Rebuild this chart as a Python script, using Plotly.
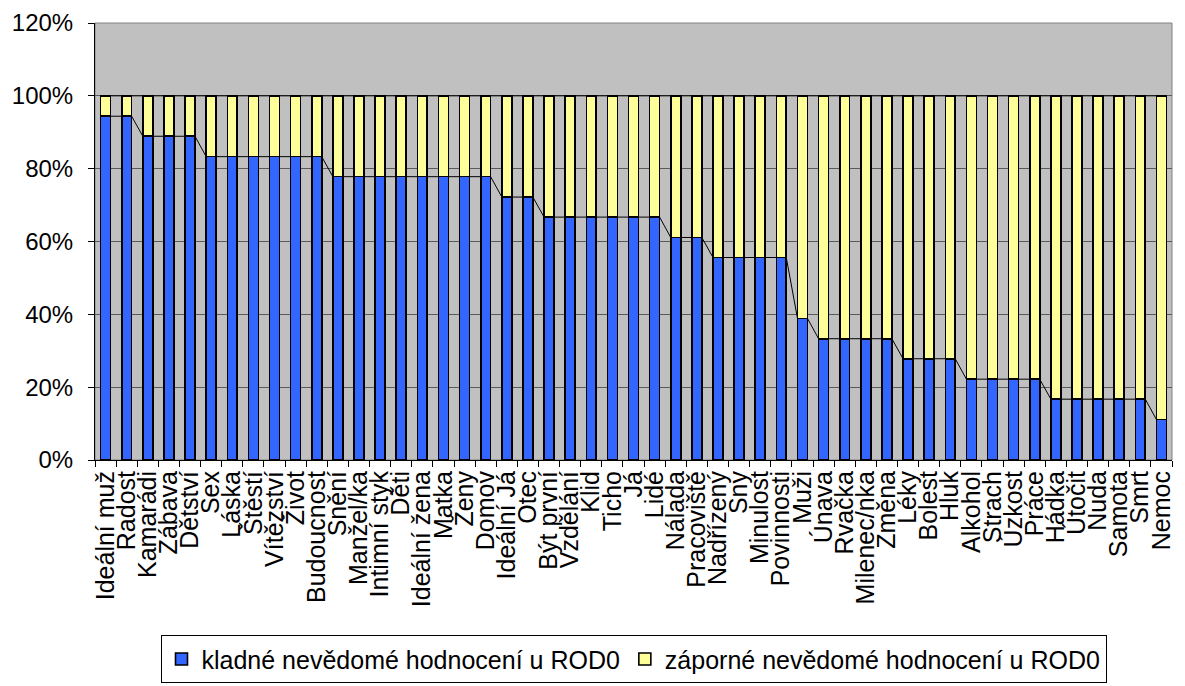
import plotly.graph_objects as go

categories = [
    "Ideální muž", "Radost", "Kamarádi", "Zábava", "Dětství", "Sex", "Láska",
    "Štěstí", "Vítězství", "Život", "Budoucnost", "Snění", "Manžel/ka",
    "Intimní styk", "Děti", "Ideální žena", "Matka", "Ženy", "Domov",
    "Ideální Já", "Otec", "Být první", "Vzdělání", "Klid", "Ticho", "Já",
    "Lidé", "Nálada", "Pracoviště", "Nadřízený", "Sny", "Minulost",
    "Povinnosti", "Muži", "Únava", "Rvačka", "Milenec/nka", "Změna", "Léky",
    "Bolest", "Hluk", "Alkohol", "Strach", "Úzkost", "Práce", "Hádka",
    "Útočit", "Nuda", "Samota", "Smrt", "Nemoc",
]

kladne = [
    94.4, 94.4, 88.9, 88.9, 88.9, 83.3, 83.3, 83.3, 83.3, 83.3, 83.3,
    77.8, 77.8, 77.8, 77.8, 77.8, 77.8, 77.8, 77.8, 72.2, 72.2,
    66.7, 66.7, 66.7, 66.7, 66.7, 66.7, 61.1, 61.1,
    55.6, 55.6, 55.6, 55.6, 38.9, 33.3, 33.3, 33.3, 33.3,
    27.8, 27.8, 27.8, 22.2, 22.2, 22.2, 22.2,
    16.7, 16.7, 16.7, 16.7, 16.7, 11.1,
]

zaporne = [
    5.6, 5.6, 11.1, 11.1, 11.1, 16.7, 16.7, 16.7, 16.7, 16.7, 16.7,
    22.2, 22.2, 22.2, 22.2, 22.2, 22.2, 22.2, 22.2, 27.8, 27.8,
    33.3, 33.3, 33.3, 33.3, 33.3, 33.3, 38.9, 38.9,
    44.4, 44.4, 44.4, 44.4, 61.1, 66.7, 66.7, 66.7, 66.7,
    72.2, 72.2, 72.2, 77.8, 77.8, 77.8, 77.8,
    83.3, 83.3, 83.3, 83.3, 83.3, 88.9,
]

y_ticks = [0, 20, 40, 60, 80, 100, 120]
y_tick_labels = ["0%", "20%", "40%", "60%", "80%", "100%", "120%"]

BLUE = "#3366FF"
YELLOW = "#FFFF99"
PLOT_BG = "#C0C0C0"
FONT = "Liberation Sans, Arial, sans-serif"
BAR_W = 0.47

x = list(range(len(categories)))

fig = go.Figure()
fig.add_bar(
    x=x, y=kladne, width=BAR_W, name="kladné nevědomé hodnocení u ROD0",
    marker=dict(color=BLUE, line=dict(color="black", width=1.6)),
)
fig.add_bar(
    x=x, y=zaporne, width=BAR_W, name="záporné nevědomé hodnocení u ROD0",
    marker=dict(color=YELLOW, line=dict(color="black", width=1.6)),
)

# series lines joining the tops of neighbouring stacked segments
def series_lines(tops):
    xs, ys = [], []
    for i in range(len(tops) - 1):
        xs += [i + BAR_W / 2, i + 1 - BAR_W / 2, None]
        ys += [tops[i], tops[i + 1], None]
    return xs, ys

top_total = [a + b for a, b in zip(kladne, zaporne)]
for tops in (kladne, top_total):
    lx, ly = series_lines(tops)
    fig.add_scatter(
        x=lx, y=ly, mode="lines", line=dict(color="black", width=1),
        showlegend=False, hoverinfo="skip",
    )

fig.update_layout(
    width=1185, height=686,
    barmode="stack",
    paper_bgcolor="white",
    plot_bgcolor=PLOT_BG,
    margin=dict(l=95, r=13, t=23, b=226, autoexpand=False),
    font=dict(family=FONT, size=24, color="black"),
    showlegend=True,
    legend=dict(
        orientation="h", x=0.5, xanchor="center",
        yref="container", y=0.039, yanchor="middle",
        bordercolor="black", borderwidth=1, bgcolor="white",
        font=dict(family=FONT, size=25), itemwidth=30,
        traceorder="normal",
    ),
)

fig.update_xaxes(
    range=[-0.5, len(categories) - 0.5],
    tickmode="array", tickvals=x, ticktext=categories,
    tickangle=-90, ticks="", showgrid=False, zeroline=False,
    showline=True, linecolor="black", linewidth=1,
    tickfont=dict(family=FONT, size=25),
    minor=dict(ticks="outside", tick0=-0.5, dtick=1, ticklen=6,
               tickcolor="black", showgrid=False),
)

fig.update_yaxes(
    range=[0, 120], tickmode="array", tickvals=y_ticks,
    ticktext=y_tick_labels,
    ticks="outside", ticklen=6, tickcolor="black",
    ticklabelstandoff=10,
    showgrid=True, gridcolor="#5A5A5A", gridwidth=1,
    zeroline=False, showline=True, linecolor="black", linewidth=1,
    tickfont=dict(family=FONT, size=24),
)

# plot area frame
fig.add_shape(
    type="rect", xref="paper", yref="paper", x0=0, x1=1, y0=0, y1=1,
    line=dict(color="#808080", width=1), layer="below",
)

fig.write_html("out.html")
